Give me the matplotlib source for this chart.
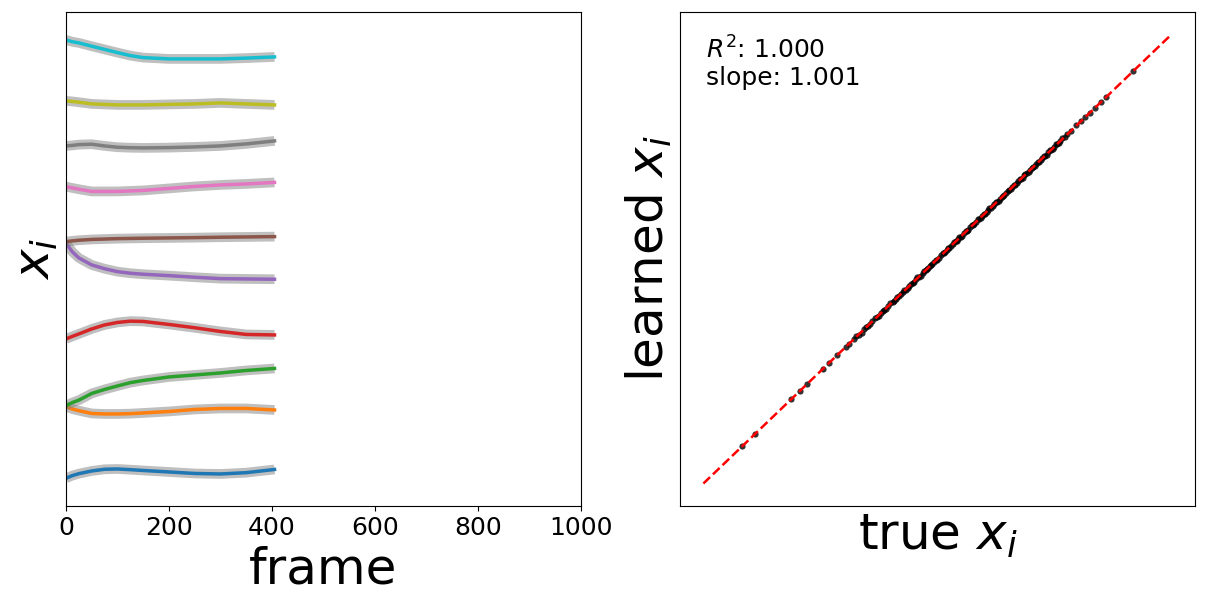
import matplotlib.pyplot as plt
import numpy as np

# frames at which the trajectories were read
frames = [0, 12, 25, 50, 75, 100, 125, 150, 200, 250, 300, 350, 405]

# x_i trajectories (arbitrary units, offset per latent)
x0 = [2.77, 3.03, 3.23, 3.50, 3.67, 3.70, 3.63, 3.55, 3.40, 3.25, 3.20, 3.33, 3.65]
x1 = [9.95, 9.70, 9.53, 9.25, 9.20, 9.20, 9.23, 9.30, 9.45, 9.65, 9.75, 9.75, 9.60]
x2 = [10.03, 10.33, 10.58, 11.25, 11.65, 12.00, 12.33, 12.55, 12.90, 13.10, 13.30, 13.55, 13.75]
x3 = [16.70, 16.95, 17.20, 17.70, 18.10, 18.35, 18.48, 18.45, 18.15, 17.82, 17.45, 17.15, 17.10]
x4 = [26.30, 25.43, 24.80, 24.10, 23.72, 23.43, 23.27, 23.17, 23.03, 22.87, 22.73, 22.70, 22.67]
x5 = [26.43, 26.50, 26.57, 26.65, 26.69, 26.73, 26.75, 26.77, 26.80, 26.83, 26.87, 26.90, 26.93]
x6 = [31.93, 31.80, 31.67, 31.45, 31.45, 31.45, 31.50, 31.55, 31.75, 31.95, 32.10, 32.20, 32.35]
x7 = [36.00, 36.05, 36.13, 36.17, 36.00, 35.87, 35.82, 35.80, 35.83, 35.90, 36.00, 36.20, 36.50]
x8 = [40.50, 40.45, 40.37, 40.20, 40.15, 40.10, 40.10, 40.10, 40.15, 40.20, 40.30, 40.20, 40.10]
x9 = [46.60, 46.42, 46.30, 45.97, 45.65, 45.33, 45.03, 44.83, 44.70, 44.70, 44.70, 44.78, 44.90]
trajectories = [x0, x1, x2, x3, x4, x5, x6, x7, x8, x9]

# true vs learned latent values
true_x = [0.829, 1.113, 1.878, 2.062, 2.206, 2.555, 2.683, 2.863, 3.041, 3.111,
          3.218, 3.319, 3.433, 3.512, 3.612, 3.704, 3.790, 3.861, 3.940, 4.041,
          4.111, 4.176, 4.255, 4.325, 4.390, 4.469, 4.540, 4.604, 4.683, 4.754,
          4.797, 4.861, 4.925, 4.989, 5.075, 5.139, 5.203, 5.253, 5.332, 5.396,
          5.439, 5.503, 5.567, 5.632, 5.696, 5.760, 5.824, 5.889, 5.953, 6.017,
          6.081, 6.146, 6.210, 6.274, 6.338, 6.403, 6.467, 6.531, 6.595, 6.660,
          6.724, 6.788, 6.852, 6.916, 6.981, 7.045, 7.109, 7.173, 7.238, 7.302,
          7.366, 7.430, 7.495, 7.559, 7.623, 7.715, 7.773, 7.859, 7.966, 8.073,
          8.158, 8.251, 8.358, 8.501, 8.608, 9.180,
          3.27, 3.38, 3.47, 3.56, 3.66, 3.75, 3.83, 3.90, 3.99, 4.08,
          4.14, 4.22, 4.29, 4.36, 4.43, 4.50, 4.57, 4.64, 4.72, 4.78,
          4.83, 4.89, 4.96, 5.03, 5.11, 5.17, 5.23, 5.29, 5.36, 5.42,
          5.47, 5.53, 5.60, 5.66, 5.73, 5.79, 5.86, 5.92, 5.99, 6.05,
          6.11, 6.18, 6.24, 6.31, 6.37, 6.43, 6.50, 6.56, 6.63, 6.69,
          6.76, 6.82, 6.88, 6.95, 7.01, 7.08, 7.14, 7.21, 7.27, 7.33,
          7.40, 7.46, 7.53, 7.59, 7.67]
learned_x = [0.835, 1.108, 1.884, 2.055, 2.214, 2.549, 2.690, 2.858, 3.047, 3.104,
             3.225, 3.312, 3.440, 3.506, 3.619, 3.698, 3.796, 3.855, 3.947, 4.035,
             4.118, 4.170, 4.262, 4.319, 4.396, 4.463, 4.547, 4.598, 4.690, 4.748,
             4.803, 4.855, 4.932, 4.983, 5.081, 5.133, 5.210, 5.247, 5.339, 5.390,
             5.446, 5.497, 5.574, 5.626, 5.703, 5.754, 5.831, 5.883, 5.960, 6.011,
             6.088, 6.140, 6.217, 6.268, 6.345, 6.397, 6.474, 6.525, 6.602, 6.654,
             6.731, 6.782, 6.859, 6.910, 6.988, 7.039, 7.116, 7.167, 7.245, 7.296,
             7.373, 7.424, 7.502, 7.553, 7.630, 7.709, 7.780, 7.853, 7.973, 8.067,
             8.165, 8.245, 8.365, 8.495, 8.615, 9.174,
             3.29, 3.36, 3.49, 3.55, 3.68, 3.73, 3.85, 3.89, 4.01, 4.06,
             4.16, 4.21, 4.31, 4.35, 4.45, 4.49, 4.59, 4.63, 4.74, 4.77,
             4.85, 4.88, 4.98, 5.02, 5.13, 5.16, 5.25, 5.28, 5.38, 5.41,
             5.49, 5.52, 5.62, 5.65, 5.75, 5.78, 5.88, 5.91, 6.01, 6.04,
             6.13, 6.17, 6.26, 6.30, 6.39, 6.42, 6.52, 6.55, 6.65, 6.68,
             6.78, 6.81, 6.90, 6.94, 7.03, 7.07, 7.16, 7.20, 7.29, 7.32,
             7.42, 7.45, 7.55, 7.58, 7.69]
fit_line = [0.0, 10.0]

r2_text = "$R^2$: 1.000\nslope: 1.001"

fig = plt.figure(figsize=(12.08, 6.04), dpi=100)
ax_left = fig.add_axes([0.0546, 0.1623, 0.4263, 0.818])
ax_right = fig.add_axes([0.5629, 0.1623, 0.4263, 0.818])

colors = plt.rcParams["axes.prop_cycle"].by_key()["color"]
for i, traj in enumerate(trajectories):
    ax_left.plot(frames, traj, color="gray", alpha=0.5, lw=7,
                 solid_capstyle="butt", solid_joinstyle="round")
    ax_left.plot(frames, traj, color=colors[i % len(colors)], lw=2.5,
                 solid_joinstyle="round")
ax_left.set_xlim(0, 1000)
ax_left.set_ylim(0, 49.4)
ax_left.set_yticks([])
ax_left.tick_params(axis="x", labelsize=18)
ax_left.set_xlabel("frame", fontsize=36)
ax_left.set_ylabel("$x_i$", fontsize=36)

ax_right.scatter(true_x, learned_x, s=20, color="black", alpha=0.8,
                 linewidths=0, zorder=2)
ax_right.plot(fit_line, fit_line, color="red", ls="--", lw=1.8, zorder=3)
ax_right.set_xticks([])
ax_right.set_yticks([])
ax_right.set_xlabel("true $x_i$", fontsize=36)
ax_right.set_ylabel("learned $x_i$", fontsize=36)
ax_right.text(0.05, 0.95, r2_text, transform=ax_right.transAxes,
              fontsize=18, va="top", ha="left", linespacing=1.1)

fig.savefig("out.png", dpi=100)
